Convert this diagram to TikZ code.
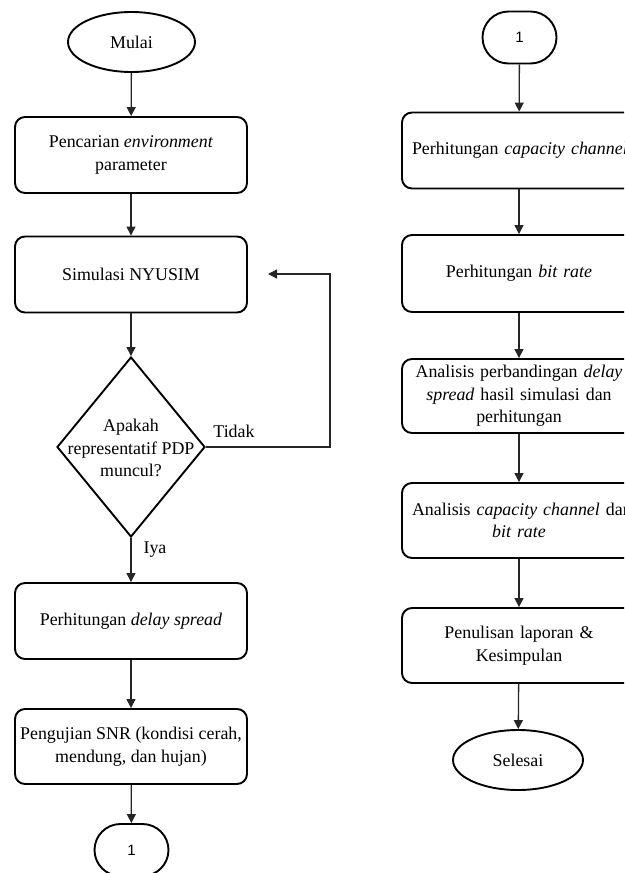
\documentclass[tikz,border=0pt]{standalone}
\usepackage{fontspec}
\setmainfont{Liberation Serif}
\newfontfamily\sansone{Liberation Sans}
\usetikzlibrary{shapes.geometric,shapes.misc,arrows.meta}
\begin{document}
\begin{tikzpicture}[x=1pt,y=-1pt,
  every node/.style={font=\fontsize{17.9}{22.5}\selectfont},
  box/.style={draw, line width=1.9pt, rounded corners=10pt, minimum width=232pt, minimum height=76pt, align=center, inner sep=0pt},
  rbox/.style={box, minimum width=234pt, text width=214pt},
  term/.style={draw, ellipse, line width=1.9pt, minimum width=127pt, minimum height=60pt, inner sep=0pt},
  conn/.style={draw, rounded rectangle, line width=1.9pt, minimum width=74pt, minimum height=52pt, inner sep=0pt, font=\sansone\fontsize{15}{17}\selectfont},
  decision/.style={draw, diamond, line width=1.9pt, minimum width=148pt, minimum height=180pt, inner sep=0pt},
  lbl/.style={inner sep=0pt},
  arr/.style={draw=black!85, line width=1.3pt, -{Triangle[length=9pt,width=9pt]}}
]
\useasboundingbox (0,0) rectangle (624,873);
\clip (0,0) rectangle (624,873);

% left column
\node[term] (mulai) at (131.5,42) {Mulai};
\node[box] (p1) at (131,155) {Pencarian \emph{environment}\\parameter};
\node[box] (p2) at (131,274.5) {Simulasi NYUSIM};
\node[decision] (d) at (131,447) {};
\node[lbl, align=center] (dtext) at (131,448) {Apakah\\representatif PDP\\muncul?};
\node[box] (p3) at (131,621) {Perhitungan \emph{delay spread}};
\node[box, minimum height=75pt] (p4) at (131,746.5) {Pengujian SNR (kondisi cerah,\\mendung, dan hujan)};
\node[conn] (c1) at (131.5,850) {1};

\node[lbl] (tidak) at (234,431) {Tidak};
\node[lbl] (iya) at (155,550) {Iya};
\coordinate (back) at (268,274);

\draw[arr] (mulai) -- (p1);
\draw[arr] (p1) -- (p2);
\draw[arr] (p2) -- (d);
\draw[arr] (d.south) -- (p3);
\draw[arr] (p3) -- (p4);
\draw[arr] (p4) -- (c1);
\draw[arr] (d.east) -- ++(124,0) |- (back);

% right column
\node[conn] (c2) at (519.5,37.5) {1};
\node[rbox, align=left] (r1) at (519,150.5) {\mbox{Perhitungan \emph{capacity channel}}};
\node[rbox, minimum height=77pt] (r2) at (519,273.5) {Perhitungan \emph{bit rate}};
\node[rbox, minimum height=74pt] (r3) at (519,396) {Analisis perbandingan \emph{delay}\\\emph{spread} hasil simulasi dan\\perhitungan};
\node[rbox, minimum height=75pt] (r4) at (519,520.5) {\mbox{Analisis \emph{capacity channel} dan}\\\emph{bit rate}};
\node[rbox, minimum height=75pt] (r5) at (519,645.5) {Penulisan laporan \&\\Kesimpulan};
\node[term, minimum width=130pt] (selesai) at (518,760) {Selesai};

\draw[arr] (c2) -- (r1);
\draw[arr] (r1) -- (r2);
\draw[arr] (r2) -- (r3);
\draw[arr] (r3) -- (r4);
\draw[arr] (r4) -- (r5);
\draw[arr] (r5) -- (selesai);
\end{tikzpicture}
\end{document}
